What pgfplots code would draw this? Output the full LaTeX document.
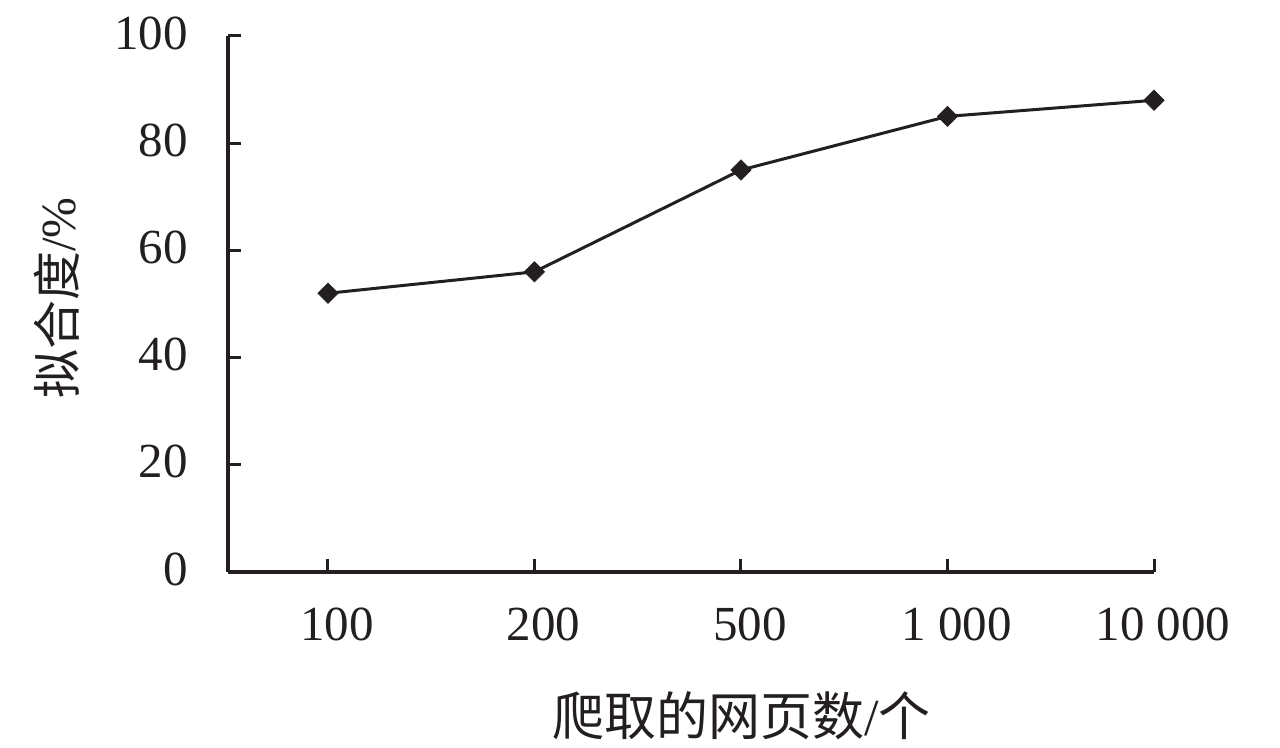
\documentclass[border=0pt]{standalone}
\usepackage{fontspec}
\setmainfont{Liberation Serif}
\newfontfamily\cjk{Noto Sans CJK SC}
\usepackage{pgfplots}
\pgfplotsset{compat=1.18}
\definecolor{ink}{HTML}{231F20}
\begin{document}
\fontsize{24.5}{28}\selectfont
\begin{tikzpicture}
\useasboundingbox (0,0) rectangle (640pt,374pt);
\begin{axis}[
  at={(114pt,88pt)}, anchor=south west,
  scale only axis, width=463pt, height=268pt,
  xmin=-0.484, xmax=4, ymin=0, ymax=100,
  clip=false,
  axis lines=left,
  axis line style={ink, line width=2pt, -},
  xtick={0,...,4},
  xticklabels={100,200,500,1~000,10~000},
  ytick={0,20,...,100},
  tick align=inside,
  major tick length=6.5pt,
  tick style={ink, line width=1.5pt},
  /pgf/number format/assume math mode=true,
  x tick label style={anchor=north, inner sep=0pt, yshift=-18pt, xshift=4.5pt, text=ink},
  y tick label style={anchor=east, inner sep=0pt, xshift=-20pt, yshift=1.5pt, text=ink},
  xlabel={\fontsize{26}{30}\selectfont{\cjk 爬取的网页数}/{\cjk 个}},
  ylabel={{\cjk 拟合度}/\%},
  xlabel style={at={(axis description cs:0.5545,-0.2687)}, anchor=center, inner sep=0pt, text=ink},
  ylabel style={at={(axis description cs:-0.1847,0.511)}, anchor=center, inner sep=0pt, text=ink},
]
\addplot[ink, line width=1.5pt, mark=square*, mark size=3.6pt,
  mark options={rotate=45, solid, fill=ink, draw=ink, line width=0.3pt}]
  coordinates {(0,52) (1,56) (2,75) (3,85) (4,88)};
\end{axis}
\end{tikzpicture}
\end{document}
